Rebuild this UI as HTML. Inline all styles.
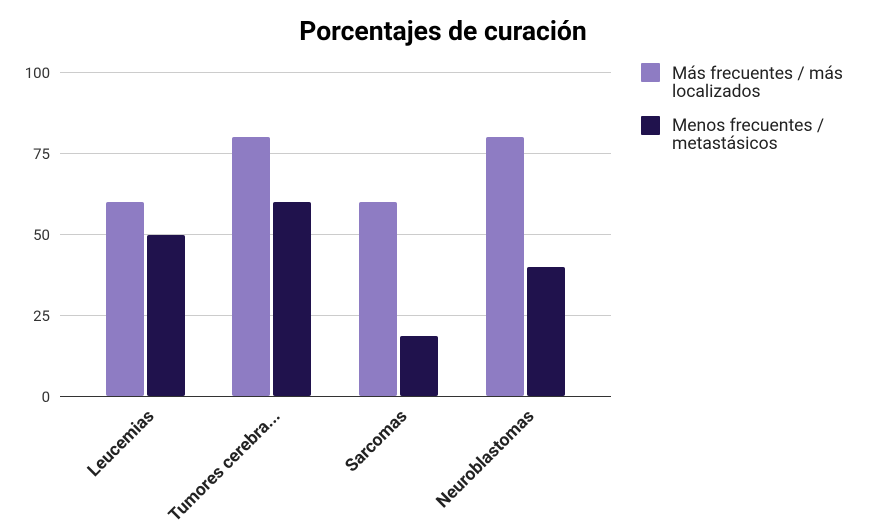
<!DOCTYPE html>
<html><head><style>body{margin:0;background:#fff}svg{display:block}</style></head><body>
<svg width="875" height="529" xmlns="http://www.w3.org/2000/svg" font-family="Roboto, 'Liberation Sans', sans-serif">
<text x="443" y="40" text-anchor="middle" font-size="26.5" font-weight="bold" fill="#000">Porcentajes de curación</text>
<g stroke="#ccc" stroke-width="1">
<line x1="60" x2="611" y1="72.5" y2="72.5"/>
<line x1="60" x2="611" y1="153.5" y2="153.5"/>
<line x1="60" x2="611" y1="234.5" y2="234.5"/>
<line x1="60" x2="611" y1="315.5" y2="315.5"/>
</g>
<g font-size="15" fill="#333" text-anchor="end">
<text x="50" y="78">100</text>
<text x="50" y="159">75</text>
<text x="50" y="240">50</text>
<text x="50" y="321">25</text>
<text x="50" y="402">0</text>
</g>
<g fill="#8e7cc3">
<rect x="106" y="202" width="38" height="194" rx="2"/>
<rect x="232" y="137" width="38" height="259" rx="2"/>
<rect x="359" y="202" width="38" height="194" rx="2"/>
<rect x="486" y="137" width="38" height="259" rx="2"/>
</g>
<g fill="#20124d">
<rect x="147" y="235" width="38" height="161" rx="2"/>
<rect x="273" y="202" width="38" height="194" rx="2"/>
<rect x="400" y="336" width="38" height="60" rx="2"/>
<rect x="527" y="267" width="38" height="129" rx="2"/>
</g>
<line x1="60" x2="611" y1="396.5" y2="396.5" stroke="#333" stroke-width="1"/>
<g font-size="17.5" font-weight="bold" fill="#222" text-anchor="end">
<text transform="translate(155,417) rotate(-45)">Leucemias</text>
<text transform="translate(281,417) rotate(-45)">Tumores cerebra...</text>
<text transform="translate(408,417) rotate(-45)">Sarcomas</text>
<text transform="translate(535,417) rotate(-45)">Neuroblastomas</text>
</g>
<rect x="641" y="63" width="19" height="19" fill="#8e7cc3" rx="1"/>
<rect x="641" y="116" width="19" height="19" fill="#20124d" rx="1"/>
<g font-size="17.5" fill="#222">
<text x="672" y="79">Más frecuentes / más</text>
<text x="672" y="97">localizados</text>
<text x="672" y="131">Menos frecuentes /</text>
<text x="672" y="149">metastásicos</text>
</g>
</svg>
</body></html>
